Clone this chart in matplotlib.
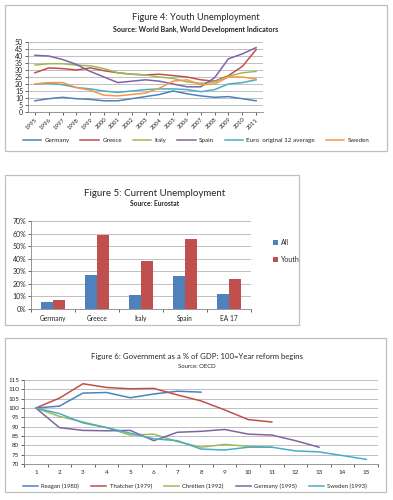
import matplotlib
import matplotlib.pyplot as plt
from matplotlib.patches import Rectangle
from matplotlib.ticker import FuncFormatter, MultipleLocator
import numpy as np

matplotlib.use("Agg")

# ---- Figure 4: youth unemployment (World Bank) ----
years = [str(y) for y in range(1995, 2012)]
germany_youth = [8, 9.5, 10.5, 9.5, 9, 8, 8, 9.5, 11, 12.5, 15, 13, 11.5, 10.5, 11, 9.5, 8]
greece_youth = [28, 31.5, 31, 30, 31.5, 29.5, 28, 27, 26.5, 27, 26, 25, 23, 22, 26, 32.5, 44.5]
italy_youth = [33.5, 34.5, 34.5, 33.5, 33, 31, 28, 27, 26.5, 25, 24, 21.5, 20.5, 21.5, 25.5, 28, 29]
spain_youth = [40.5, 40, 37.5, 34, 29, 25, 21, 22, 23, 22, 20, 18, 18, 24.5, 38, 41.5, 46]
euro12_youth = [20, 20.5, 19.5, 17.5, 16.5, 15, 14, 15, 16, 16.5, 16.5, 16, 14.5, 16, 20, 21, 23]
sweden_youth = [20, 21, 21, 17.5, 15.5, 12, 11.5, 12.5, 13.5, 17, 22, 23, 19.5, 20, 25, 25, 23.5]

# ---- Figure 5: current unemployment (Eurostat) ----
countries = ["Germany", "Greece", "Italy", "Spain", "EA 17"]
unemp_all = [5.5, 27, 11.5, 26.5, 12]
unemp_youth = [7.5, 59, 38.5, 56, 24]

# ---- Figure 6: government as % of GDP, 100 = year reform begins ----
reform_years = [str(i) for i in range(1, 16)]
reagan = [100, 101, 108, 108.3, 105.5, 107.5, 109, 108.5]
thatcher = [100, 105.3, 113, 111, 110.3, 110.5, 107, 103.8, 99, 93.8, 92.5]
chretien = [100, 95.5, 92.5, 89.5, 85.5, 86, 82, 79, 80.5, 79.5, 79]
germany_gov = [100, 89.5, 88, 87.8, 88, 82.5, 87, 87.5, 88.5, 86, 85.5, 82.5, 79]
sweden_gov = [100, 97, 92, 89.5, 86.5, 83.5, 82.5, 78, 77.5, 79, 79, 77, 76.5, 74.5, 72.5]

BLUE = "#4F81BD"
RED = "#C0504D"
GREEN = "#9BBB59"
PURPLE = "#8064A2"
CYAN = "#4BACC6"
ORANGE = "#F79646"
GRID = "#A6A6A6"
TEXT = "#262626"

plt.rcParams.update({
    "font.family": ["Lato", "DejaVu Sans"],
    "font.size": 4.5,
    "text.color": TEXT,
    "xtick.color": TEXT,
    "ytick.color": TEXT,
    "axes.linewidth": 0.6,
    "axes.edgecolor": "#868686",
})

W, H = 393, 500
fig = plt.figure(figsize=(W / 100, H / 100), dpi=100)


def px_axes(x0, y0, x1, y1):
    # pixel box (top-left origin) -> figure fraction axes
    return fig.add_axes([x0 / W, 1 - y1 / H, (x1 - x0) / W, (y1 - y0) / H])


def frame(x0, y0, x1, y1):
    fig.patches.append(Rectangle((x0 / W, 1 - y1 / H), (x1 - x0) / W, (y1 - y0) / H,
                                 transform=fig.transFigure, fill=False,
                                 edgecolor="#BFBFBF", linewidth=0.9))


def excel_style(ax):
    ax.grid(axis="y", color=GRID, linewidth=0.5)
    ax.set_axisbelow(True)
    for side in ("top", "right"):
        ax.spines[side].set_visible(False)
    ax.tick_params(length=2, width=0.5, pad=1.5)


# ---------------- Figure 4 ----------------
frame(5, 5, 387, 151)
fig.text(196 / W, 1 - 17 / H, "Figure 4: Youth Unemployment", ha="center", va="center", fontsize=6.7)
fig.text(196 / W, 1 - 29 / H, "Source: World Bank, World Development Indicators",
         ha="center", va="center", fontsize=5.1, fontweight="bold")

ax4 = px_axes(28, 42, 263, 112)
x4 = np.arange(len(years))
series4 = [
    ("Germany", germany_youth, BLUE),
    ("Greece", greece_youth, RED),
    ("Italy", italy_youth, GREEN),
    ("Spain", spain_youth, PURPLE),
    ("Euro  original 12 average", euro12_youth, CYAN),
    ("Sweden", sweden_youth, ORANGE),
]
for label, vals, col in series4:
    ax4.plot(x4, vals, color=col, linewidth=1.1, label=label)
ax4.set_xlim(-0.5, len(years) - 0.5)
ax4.set_ylim(0, 50)
ax4.yaxis.set_major_locator(MultipleLocator(5))
ax4.set_xticks(x4)
ax4.set_xticklabels(years, rotation=45, ha="right", rotation_mode="anchor", fontsize=4.3)
excel_style(ax4)
ax4.tick_params(axis="y", labelsize=5)
ax4.legend(loc="center", bbox_to_anchor=(196 / W, 1 - 140 / H), bbox_transform=fig.transFigure,
           ncol=6, frameon=False, fontsize=4.5, handlelength=3.0, columnspacing=1.7,
           handletextpad=0.5)

# ---------------- Figure 5 ----------------
frame(5, 175, 299, 325)
fig.text(155 / W, 1 - 193 / H, "Figure 5: Current Unemployment", ha="center", va="center", fontsize=7)
fig.text(155 / W, 1 - 203 / H, "Source: Eurostat", ha="center", va="center",
         fontsize=4.8, fontweight="bold")

ax5 = px_axes(31, 221, 251, 309)
x5 = np.arange(len(countries))
bw = 0.275
ax5.bar(x5 - bw / 2, unemp_all, bw, color=BLUE, label="All")
ax5.bar(x5 + bw / 2, unemp_youth, bw, color=RED, label="Youth")
ax5.set_xlim(-0.5, len(countries) - 0.5)
ax5.set_ylim(0, 70)
ax5.yaxis.set_major_locator(MultipleLocator(10))
ax5.yaxis.set_major_formatter(FuncFormatter(lambda v, _: f"{v:.0f}%"))
ax5.set_xticks(x5)
ax5.set_xticklabels(countries, fontsize=4.8)
ax5.set_xticks(np.arange(-0.5, len(countries)), minor=True)
excel_style(ax5)
ax5.tick_params(axis="x", which="major", length=0, pad=4)
ax5.tick_params(axis="x", which="minor", length=2.5, width=0.5)
ax5.tick_params(axis="y", labelsize=5)
ax5.legend(loc="center left", bbox_to_anchor=(267 / W, 1 - 251 / H), bbox_transform=fig.transFigure,
           frameon=False, fontsize=5, handlelength=0.7, handleheight=0.7, handletextpad=0.4,
           labelspacing=1.4)

# ---------------- Figure 6 ----------------
frame(5, 338, 386, 492)
fig.text(197 / W, 1 - 357 / H, "Figure 6: Government as a % of GDP: 100=Year reform begins",
         ha="center", va="center", fontsize=5.6)
fig.text(197 / W, 1 - 367 / H, "Source: OECD", ha="center", va="center", fontsize=4.3)

ax6 = px_axes(24, 380, 378, 464)
series6 = [
    ("Reagan (1980)", reagan, BLUE),
    ("Thatcher (1979)", thatcher, RED),
    ("Chrétien (1992)", chretien, GREEN),
    ("Germany (1995)", germany_gov, PURPLE),
    ("Sweden (1993)", sweden_gov, CYAN),
]
for label, vals, col in series6:
    ax6.plot(np.arange(len(vals)), vals, color=col, linewidth=1.1, label=label)
ax6.set_xlim(-0.5, len(reform_years) - 0.5)
ax6.set_ylim(70, 115)
ax6.yaxis.set_major_locator(MultipleLocator(5))
ax6.set_xticks(np.arange(len(reform_years)))
ax6.set_xticklabels(reform_years)
ax6.set_xticks(np.arange(-0.5, len(reform_years)), minor=True)
excel_style(ax6)
ax6.tick_params(axis="x", which="major", length=0, pad=4)
ax6.tick_params(axis="x", which="minor", length=2.5, width=0.5)
ax6.tick_params(labelsize=4.5)
ax6.legend(loc="center", bbox_to_anchor=(195 / W, 1 - 486 / H), bbox_transform=fig.transFigure,
           ncol=5, frameon=False, fontsize=4.3, handlelength=2.5, columnspacing=2.0,
           handletextpad=0.6)

fig.savefig("out.png", dpi=100)
